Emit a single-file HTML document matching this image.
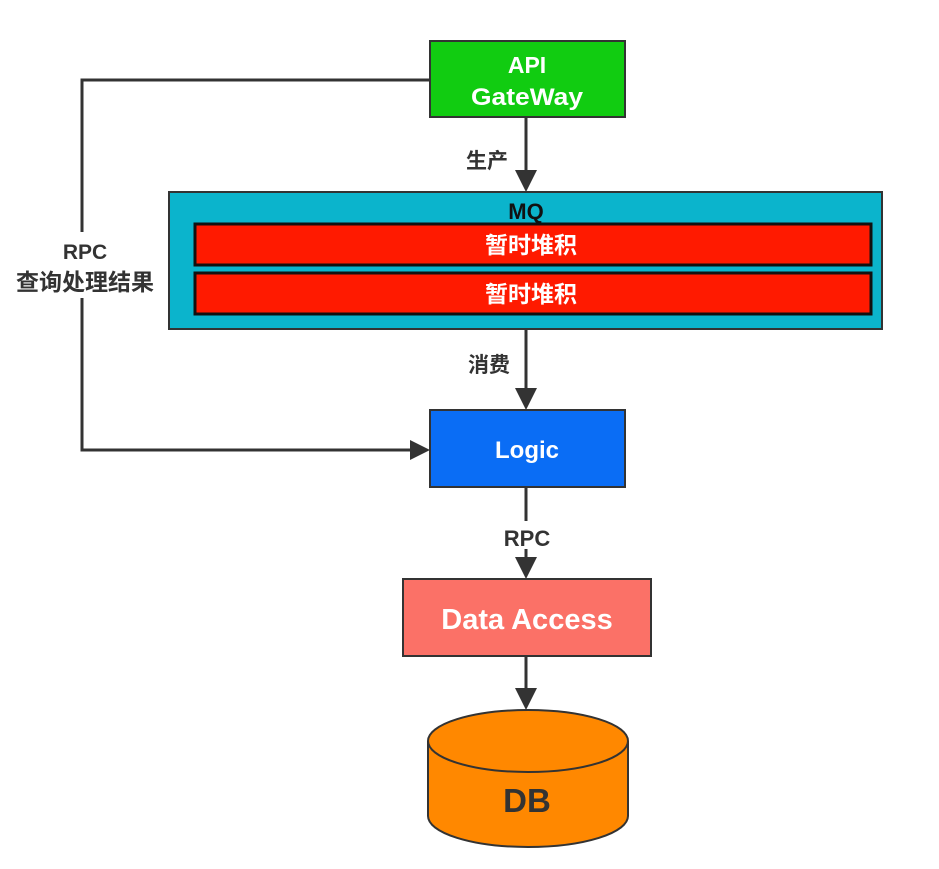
<!DOCTYPE html>
<html><head><meta charset="utf-8"><style>
html,body{margin:0;padding:0;background:#fff;}
svg{display:block;}
text{font-family:"Liberation Sans","Noto Sans CJK SC",sans-serif;font-weight:bold;}
</style></head><body>
<svg width="939" height="869" viewBox="0 0 939 869" xmlns="http://www.w3.org/2000/svg">
<g stroke="#333" stroke-width="3" fill="none">
<polyline points="430,80 82,80 82,450 410,450"/>
<line x1="526" y1="117" x2="526" y2="172"/>
<line x1="526" y1="329" x2="526" y2="390"/>
<line x1="526" y1="487" x2="526" y2="560"/>
<line x1="526" y1="656" x2="526" y2="690"/>
</g>
<g fill="#333">
<path d="M410,440 L430,450 L410,460 z"/>
<path d="M515,170 L526,192 L537,170 z"/>
<path d="M515,388 L526,410 L537,388 z"/>
<path d="M515,557 L526,579 L537,557 z"/>
<path d="M515,688 L526,710 L537,688 z"/>
</g>
<rect x="8" y="232" width="156" height="66" fill="#fff"/>
<text x="85" y="259" font-size="21" fill="#333" text-anchor="middle">RPC</text>
<text x="85" y="290" font-size="23" fill="#333" text-anchor="middle">查询处理结果</text>
<rect x="430" y="41" width="195" height="76" fill="#11cc11" stroke="#333" stroke-width="2"/>
<text x="527" y="73" font-size="23" fill="#fff" text-anchor="middle">API</text>
<text x="527" y="105" font-size="24" fill="#fff" text-anchor="middle" textLength="112" lengthAdjust="spacingAndGlyphs">GateWay</text>
<rect x="462" y="145" width="52" height="28" fill="#fff"/>
<text x="487" y="168" font-size="21" fill="#333" text-anchor="middle">生产</text>
<rect x="169" y="192" width="713" height="137" fill="#0bb4cc" stroke="#333" stroke-width="2"/>
<text x="526" y="219" font-size="22" fill="#111" text-anchor="middle">MQ</text>
<rect x="195" y="224" width="676" height="41" fill="#ff1a00" stroke="#111" stroke-width="3"/>
<text x="531" y="253" font-size="23" fill="#fff" text-anchor="middle">暂时堆积</text>
<rect x="195" y="273" width="676" height="41" fill="#ff1a00" stroke="#111" stroke-width="3"/>
<text x="531" y="302" font-size="23" fill="#fff" text-anchor="middle">暂时堆积</text>
<text x="489" y="372" font-size="21" fill="#333" text-anchor="middle">消费</text>
<rect x="430" y="410" width="195" height="77" fill="#0a6df5" stroke="#333" stroke-width="2"/>
<text x="527" y="458" font-size="24" fill="#fff" text-anchor="middle">Logic</text>
<rect x="498" y="521" width="58" height="28" fill="#fff"/>
<text x="527" y="546" font-size="22" fill="#333" text-anchor="middle">RPC</text>
<rect x="403" y="579" width="248" height="77" fill="#fb7167" stroke="#333" stroke-width="2"/>
<text x="527" y="629" font-size="29" fill="#fff" text-anchor="middle">Data Access</text>
<path d="M428,741 L428,816 A100,31 0 0 0 628,816 L628,741" fill="#ff8800" stroke="#333" stroke-width="2"/>
<ellipse cx="528" cy="741" rx="100" ry="31" fill="#ff8800" stroke="#333" stroke-width="2"/>
<text x="527" y="812" font-size="33" fill="#333" text-anchor="middle">DB</text>
</svg>
</body></html>
